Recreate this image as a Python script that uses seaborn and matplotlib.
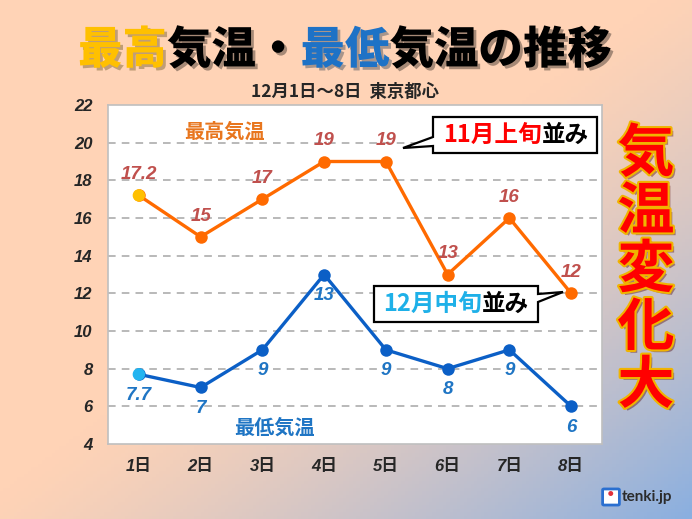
import matplotlib
matplotlib.use("Agg")
import matplotlib.pyplot as plt
import matplotlib.patheffects as pe
from matplotlib.patches import Polygon, FancyBboxPatch
from matplotlib import font_manager
import numpy as np
import pandas as pd
import seaborn as sns

# data
days = ["1日", "2日", "3日", "4日", "5日", "6日", "7日", "8日"]
high = [17.2, 15, 17, 19, 19, 13, 16, 12]
low = [7.7, 7, 9, 13, 9, 8, 9, 6]
high_labels = ["17.2", "15", "17", "19", "19", "13", "16", "12"]
low_labels = ["7.7", "7", "9", "13", "9", "8", "9", "6"]
yticks = [4, 6, 8, 10, 12, 14, 16, 18, 20, 22]

W, H = 692, 519
JP = ["Noto Sans CJK JP", "DejaVu Sans"]

sns.set_style("white")
plt.rcParams["font.family"] = JP

# bold italic number font (Arial-like)
num_fp = font_manager.FontProperties(family="Liberation Sans", style="italic",
                                     weight="bold")
NUM = font_manager.FontProperties(fname=font_manager.findfont(num_fp))
DAY = font_manager.FontProperties(family=["Liberation Sans", "Noto Sans CJK JP"],
                                  style="italic", weight="bold", size=12)

df = pd.DataFrame({"x": np.arange(len(days)), "high": high, "low": low})

fig = plt.figure(figsize=(W / 100, H / 100), dpi=100)


def px(x, y):
    # pixel position (y down) -> figure fraction
    return x / W, 1 - y / H


# gradient background
bg = fig.add_axes([0, 0, 1, 1], zorder=-10)
gx, gy = np.meshgrid(np.linspace(0, 1, 200), np.linspace(0, 1, 150))
t = np.clip((gx + gy - 0.95) / 1.05, 0, 1) ** 1.3
c0 = np.array([255, 211, 182]) / 255
c1 = np.array([138, 175, 224]) / 255
img = c0[None, None, :] * (1 - t[..., None]) + c1[None, None, :] * t[..., None]
bg.imshow(img, aspect="auto", extent=[0, 1, 0, 1], origin="upper")
bg.axis("off")

ax = fig.add_axes([108 / W, 75 / H, 494 / W, 339 / H])
ax.set_facecolor("white")

orange = "#FF6A00"
blue = "#0B5FC6"
sns.lineplot(data=df, x="x", y="high", ax=ax, color=orange, lw=2.4,
             marker="o", markersize=9, markeredgewidth=0, zorder=3)
sns.lineplot(data=df, x="x", y="low", ax=ax, color=blue, lw=2.4,
             marker="o", markersize=9, markeredgewidth=0, zorder=3)
sns.scatterplot(x=df["x"][:1], y=df["high"][:1], ax=ax, color="#FFC000",
                s=80, edgecolor="none", zorder=4)
sns.scatterplot(x=df["x"][:1], y=df["low"][:1], ax=ax, color="#22B4F0",
                s=80, edgecolor="none", zorder=4)

ax.set_xlim(-0.5, len(days) - 0.5)
ax.set_ylim(4, 22)
ax.set_yticks(yticks)
ax.set_yticklabels([str(v) for v in yticks], fontproperties=NUM, fontsize=12)
ax.set_xticks(df["x"])
ax.set_xticklabels(days, fontproperties=DAY)
ax.set_xticks(np.arange(0.5, len(days) - 1, 1), minor=True)
ax.tick_params(axis="y", length=0, pad=11)
ax.tick_params(axis="x", which="major", length=0, pad=11)
ax.tick_params(axis="x", which="minor", direction="in", length=5, color="#D0D0D0")
ax.set_xlabel("")
ax.set_ylabel("")
for v in yticks[1:-1]:
    ax.axhline(v, color="#A6A6A6", lw=1.1, ls=(0, (5, 4)), zorder=1)
for s in ax.spines.values():
    s.set_color("#BFBFBF")
    s.set_linewidth(1.2)

for xi, v, lab in zip(df["x"], high, high_labels):
    ax.annotate(lab, (xi, v), xytext=(0, 15), textcoords="offset points",
                ha="center", va="center", color="#C0504D", fontsize=13.5,
                fontproperties=NUM)
for xi, v, lab in zip(df["x"], low, low_labels):
    ax.annotate(lab, (xi, v), xytext=(0, -15), textcoords="offset points",
                ha="center", va="center", color="#1F75C4", fontsize=13.5,
                fontproperties=NUM)

ax.text(1.38, 20.6, "最高気温", color="#E8761E", fontsize=14.5, fontweight="bold",
        ha="center", va="center")
ax.text(2.2, 4.9, "最低気温", color="#1F75C4", fontsize=14.5, fontweight="bold",
        ha="center", va="center")

renderer = fig.canvas.get_renderer()


def rainbow(x, y, pieces, size, weight="bold", effects=None, z=6):
    texts = []
    cur = x
    for s, c in pieces:
        tt = fig.text(cur, y, s, color=c, fontsize=size, fontweight=weight,
                      ha="left", va="center", path_effects=effects, zorder=z)
        cur += tt.get_window_extent(renderer).width / W
        texts.append(tt)
    shift = (cur - x) / 2
    for tt in texts:
        tt.set_x(tt.get_position()[0] - shift)


shadow = [pe.SimplePatchShadow(offset=(2, -2), alpha=0.35), pe.Normal()]
tx, ty = px(345, 50)
rainbow(tx, ty, [("最高", "#FFC000"), ("気温・", "black"), ("最低", "#1E72C6"),
                 ("気温の推移", "black")], 32, weight="heavy", effects=shadow)
sx, sy = px(345, 92)
fig.text(sx, sy, "12月1日～8日  東京都心", fontsize=12.5, fontweight="bold",
         ha="center", va="center")


# callout boxes
def callout(pts):
    poly = Polygon([px(a, b) for a, b in pts], closed=True, transform=fig.transFigure,
                   facecolor="white", edgecolor="black", lw=1.6, zorder=5)
    fig.add_artist(poly)


callout([(433, 117), (597, 117), (597, 153), (433, 153), (433, 146), (403, 148),
         (433, 137)])
bx, by = px(516, 135)
rainbow(bx, by, [("11月上旬", "#FF0000"), ("並み", "black")], 17)
callout([(374, 286), (538, 286), (538, 294), (563, 292), (538, 302), (538, 322),
         (374, 322)])
bx, by = px(456, 304)
rainbow(bx, by, [("12月中旬", "#1EB0E8"), ("並み", "black")], 17)

# vertical headline
big = [pe.SimplePatchShadow(offset=(2, -2), alpha=0.4),
       pe.withStroke(linewidth=3, foreground="#F0B400")]
for i, ch in enumerate("気温変化大"):
    cx, cy = px(646, 154 + i * 58)
    fig.text(cx, cy, ch, color="#FF0000", fontsize=41, fontweight="bold",
             ha="center", va="center", path_effects=big)

# logo
lx, ly = px(604, 504)
fig.add_artist(FancyBboxPatch((lx, ly), 14 / W, 14 / H, boxstyle="round,pad=0.002",
                              transform=fig.transFigure, facecolor="white",
                              edgecolor="#2A6FD0", lw=2))
dx, dy = px(611, 494)
fig.text(dx, dy, "●", color="#E0303A", fontsize=4, ha="center", va="center")
nx, ny = px(622, 497)
fig.text(nx, ny, "tenki.jp", color="#2B2B2B", fontsize=11, fontweight="bold",
         ha="left", va="center", fontfamily=["Lato", "DejaVu Sans"])

fig.savefig("out.png", dpi=100)
